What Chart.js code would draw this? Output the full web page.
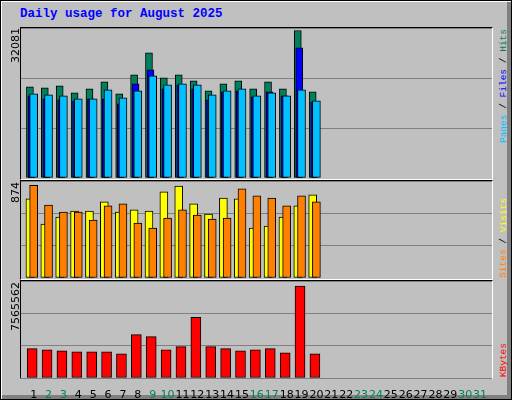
<!DOCTYPE html>
<html><head><meta charset="utf-8">
<script src="https://cdn.jsdelivr.net/npm/chart.js@4"></script>
<style>
html,body{margin:0;padding:0;background:#c0c0c0;}
#frame{position:absolute;left:0;top:0;width:512px;height:400px;box-sizing:border-box;border:1px solid #000;
 box-shadow:inset 1px 1px 0 #fff, inset -4px -4px 0 #808080;background:#c0c0c0;overflow:hidden}
.t{position:absolute;font-family:"Liberation Mono",monospace;white-space:nowrap}
#title{left:19px;top:6px;color:#0000ff;font-weight:bold;font-size:12.5px}
.rot{position:absolute;writing-mode:vertical-rl;transform:rotate(180deg);white-space:nowrap}
.max{font-family:"DejaVu Sans",sans-serif;font-size:11px;color:#000;left:8px}
.side{font-family:"Liberation Mono",monospace;font-size:9.5px;left:497px}
.panel{position:absolute;left:19px;width:473px;box-sizing:border-box;border:1px solid #000;border-right-color:#fff;border-bottom-color:#fff}
.cv{position:absolute;left:20px}
</style></head><body>
<div id="frame">
<div id="title" class="t">Daily usage for August 2025</div>
<div class="panel" style="top:26px;height:153px"></div>
<div class="panel" style="top:179px;height:100px"></div>
<div class="panel" style="top:279px;height:99px"></div>
<div class="cv" style="top:27px;width:471px;height:150px"><canvas id="c1"></canvas></div>
<div class="cv" style="top:180px;width:471px;height:97px"><canvas id="c2"></canvas></div>
<div class="cv" style="top:280px;width:471px;height:118px"><canvas id="c3"></canvas></div>
<div class="rot max" style="top:27px">32081</div>
<div class="rot max" style="top:181px">874</div>
<div class="rot max" style="top:281px">7565562</div>
<div class="rot side" style="top:28px"><span style="color:#00c0ff">Pages</span> / <span style="color:#0000ff">Files</span> / <span style="color:#00805c">Hits</span></div>
<div class="rot side" style="top:197px"><span style="color:#ff8000">Sites</span> / <span style="color:#ffff00">Visits</span></div>
<div class="rot side" style="top:342px"><span style="color:#ff0000">KBytes</span></div>
</div>
<script>
const days = Array.from({length:31},(_,i)=>i+1);
const weekendDays = [2,3,9,10,16,17,23,24,30,31];
const hits  = [19836,19620,20054,18531,19401,20924,18314,22446,27231,21794,22446,21141,18966,20489,21141,19401,20924,19401,32081,18749];
const files = [17879,17226,17009,16791,17226,17226,16139,20489,23534,19401,20271,19401,17009,18749,18966,17661,18749,17879,28319,16574];
const pages = [18314,18096,17879,17226,17226,19184,17444,18966,22229,20271,20489,20271,18096,18966,19401,17879,18531,17879,19184,16791];
const visits= [746,509,575,632,632,718,623,642,632,812,866,699,604,755,746,471,490,575,680,784];
const sites = [874,689,623,623,547,680,699,519,471,566,642,594,556,566,841,774,755,680,774,718];
const kbytes= [2411000,2328000,2245000,2162000,2162000,2162000,1995000,3575000,3409000,2328000,2577000,4988000,2577000,2411000,2245000,2328000,2411000,2078000,7565562,1995000];

const pts=(arr,sh)=>arr.map((v,i)=>({x:days[i]+sh,y:v}));
function ds(arr,sh,color,w,ord){return {data:pts(arr,sh),backgroundColor:color,borderColor:'#000',borderWidth:1,barThickness:w,borderSkipped:false,grouped:false,order:ord};}
function opts(ymax,showX){
 return {responsive:true,maintainAspectRatio:false,animation:false,layout:{padding:0},
  plugins:{legend:{display:false},tooltip:{enabled:false}},
  scales:{
   x:{type:'linear',offset:false,min:0.15,max:31.8,display:showX,grid:{display:false,offset:false},border:{display:false},
      afterBuildTicks:s=>{s.ticks=days.map(d=>({value:d}));},
      afterFit:s=>{s.height=showX?21:0;},
      ticks:{autoSkip:false,maxRotation:0,padding:3,font:{family:'DejaVu Sans',size:11},
        color:c=>weekendDays.includes(c.tick&&c.tick.value)?'#00805c':'#000',
        callback:v=>String(v)}},
   y:{min:0,max:ymax,afterFit:s=>{s.width=0;},border:{display:false},
      ticks:{display:false,stepSize:ymax/3},grid:{color:'#808080',lineWidth:1,drawTicks:false}}
  }};
}
new Chart(document.getElementById('c1'),{type:'bar',data:{datasets:[
 ds(hits,-0.25,'#00805c',7,2),ds(files,-0.15,'#0000ff',7,1),ds(pages,0,'#00c0ff',8,0)]},options:opts(32625,false)});
new Chart(document.getElementById('c2'),{type:'bar',data:{datasets:[
 ds(visits,-0.25,'#ffff00',8,1),ds(sites,0,'#ff8000',8,0)]},options:opts(915,false)});
new Chart(document.getElementById('c3'),{type:'bar',data:{datasets:[
 ds(kbytes,-0.1,'#ff0000',10,0)]},options:opts(7981000,true)});
</script></body></html>
